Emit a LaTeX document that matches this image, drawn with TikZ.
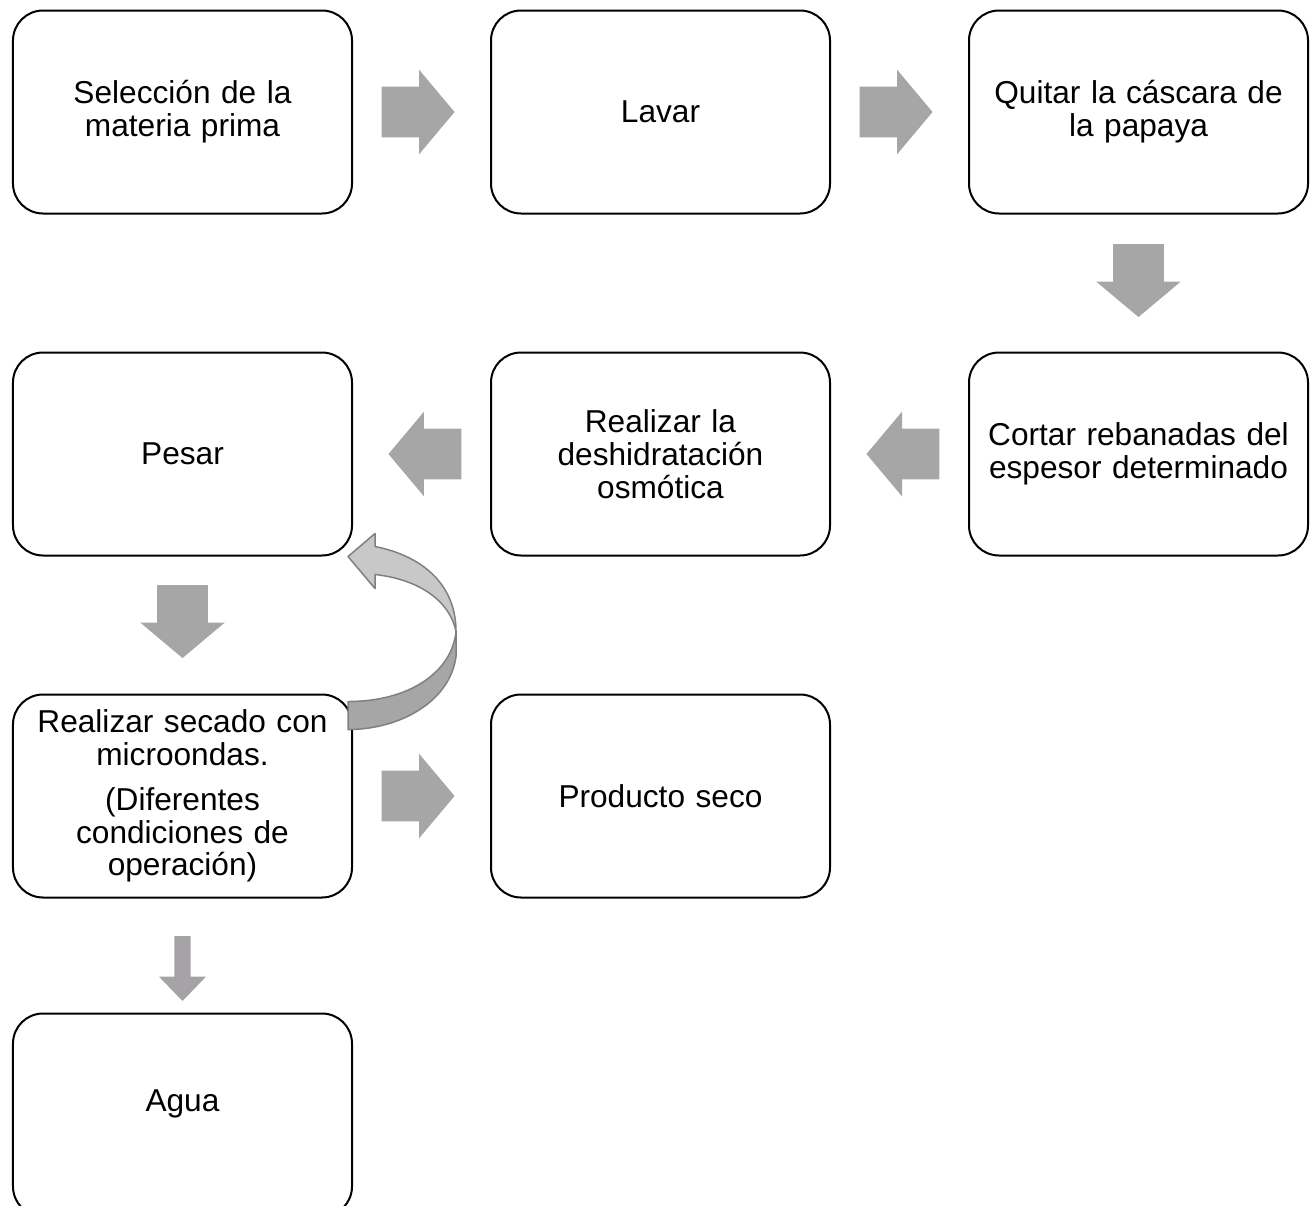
\documentclass[tikz,border=0pt]{standalone}
\usepackage{fontspec}
\setmainfont{Liberation Sans}
\usetikzlibrary{shapes.arrows, positioning, calc}

\definecolor{arrowgray}{HTML}{A6A6A6}
\definecolor{curvelight}{HTML}{C8C8C8}
\definecolor{curvedark}{HTML}{A6A6A6}
\definecolor{curveedge}{HTML}{808080}
\definecolor{waterarrow}{HTML}{A5A3A6}

\begin{document}
\begin{tikzpicture}[
    box/.style={draw, line width=0.04cm, rounded corners=0.6cm, minimum width=6.78cm, minimum height=4.06cm,
                text width=6.4cm, align=center, font=\fontsize{18}{18.7}\selectfont},
    blkarrow/.style={single arrow, fill=arrowgray, draw=none, inner xsep=0pt, inner ysep=0.5cm, anchor=tip,
                minimum height=1.46cm, single arrow head extend=0.34cm, single arrow tip angle=100},
    node distance=2.74cm]
        \useasboundingbox (-3.65,2.24) rectangle (22.59,-21.86);

        % Define process steps
        \node[box] (sel) at (0,0) {Selección de la\\ materia prima};
        \node[box, right=of sel] (lavar) {Lavar};
        \node[box, right=of lavar] (quitar) {Quitar la cáscara de\\ la papaya};
        \node[box, below=of quitar] (cortar) {Cortar rebanadas del\\ espesor determinado};
        \node[box, left=of cortar] (osmo) {Realizar la\\ deshidratación\\ osmótica};
        \node[box, left=of osmo] (pesar) {Pesar};
        \node[box, below=of pesar] (secado) {Realizar secado con\\ microondas.\\[0.24cm] (Diferentes\\ condiciones de\\ operación)};
        \node[box, right=of secado] (producto) {Producto seco};
        \node[box, below=2.28cm of secado, text depth=0.57cm] (agua) {Agua};

        % Block arrows, tip placed short of the next step
        \node[blkarrow] (a1) at ([xshift=-0.7cm]lavar.west) {};
        \node[blkarrow] (a2) at ([xshift=-0.7cm]quitar.west) {};
        \node[blkarrow, rotate=-90] (a3) at ([yshift=0.68cm]cortar.north) {};
        \node[blkarrow, rotate=180] (a4) at ([xshift=0.7cm]osmo.east) {};
        \node[blkarrow, rotate=180] (a5) at ([xshift=0.7cm]pesar.east) {};
        \node[blkarrow, rotate=-90] (a6) at ([yshift=0.7cm]secado.north) {};
        \node[blkarrow] (a7) at ([xshift=-0.7cm]producto.west) {};
        \node[blkarrow, rotate=-90, fill=waterarrow, minimum height=1.3cm, inner ysep=0.155cm,
              single arrow head extend=0.31cm, single arrow tip angle=88] (a8) at ([yshift=0.22cm]agua.north) {};

        % Curved arrow from secado back to pesar
        \begin{scope}[shift={(pesar.south east)}, x=0.02cm, y=-0.02cm, draw=curveedge, line width=0.03cm, line join=round]
            \filldraw[fill=curvedark] (-5,145) .. controls (57,145) and (99,115) .. (103,75) -- (103,100)
                .. controls (97,145) and (47,173) .. (-5,173) -- cycle;
            \filldraw[fill=curvelight] (-5,0) -- (22,-23) -- (22,-10) .. controls (72,0) and (103,30) .. (103,75)
                .. controls (97,45) and (67,23) .. (22,18) -- (22,32) -- cycle;
        \end{scope}
\end{tikzpicture}
\end{document}
